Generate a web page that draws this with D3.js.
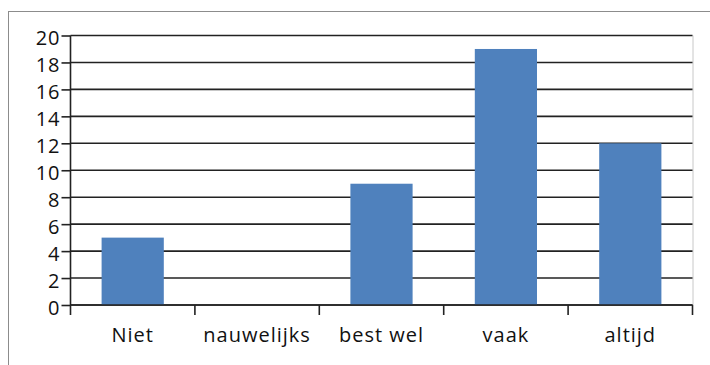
<!DOCTYPE html>
<html>
<head>
<meta charset="utf-8">
<script src="https://cdn.jsdelivr.net/npm/d3@7"></script>
<style>
  html, body { margin: 0; padding: 0; background: #fff; }
  svg { display: block; }
  text { font-family: "Open Sans", sans-serif; fill: #111; letter-spacing: 1px; }
</style>
</head>
<body>
<svg id="chart" width="710" height="365"></svg>
<script>
const categories = ["Niet", "nauwelijks", "best wel", "vaak", "altijd"];
const counts = [5, 0, 9, 19, 12];
const yTicks = [0, 2, 4, 6, 8, 10, 12, 14, 16, 18, 20];

const svg = d3.select("#chart");
const plotLeft = 70.5, plotRight = 692.5, plotTop = 35.5, plotBottom = 305;

// outer frame
svg.append("rect")
  .attr("x", 8.5).attr("y", 11.5)
  .attr("width", 760).attr("height", 400)
  .attr("fill", "none").attr("stroke", "#8c8c8c").attr("stroke-width", 1);

const x = d3.scaleBand().domain(categories).range([plotLeft, plotRight]).paddingInner(0.5).paddingOuter(0.25);
const xb = d3.scaleBand().domain(categories).range([plotLeft, plotRight]);
const y = d3.scaleLinear().domain([0, 20]).range([plotBottom, plotTop]);

// plot area right border
svg.append("line")
  .attr("x1", plotRight + 0.5).attr("x2", plotRight + 0.5)
  .attr("y1", plotTop).attr("y2", plotBottom)
  .attr("stroke", "#c8c8c8").attr("stroke-width", 1);

// gridlines
svg.append("g").selectAll("line").data(yTicks).join("line")
  .attr("x1", plotLeft).attr("x2", plotRight)
  .attr("y1", d => y(d)).attr("y2", d => y(d))
  .attr("stroke", "#222").attr("stroke-width", 1.6);

// bars
svg.append("g").selectAll("rect").data(categories).join("rect")
  .attr("x", d => x(d))
  .attr("width", x.bandwidth())
  .attr("y", (d, i) => y(counts[i]))
  .attr("height", (d, i) => y(0) - y(counts[i]))
  .attr("fill", "#4f81bd");

// y axis
const yAxis = d3.axisLeft(y).tickValues(yTicks).tickSize(9).tickPadding(1).tickFormat(d3.format("d"));
const gy = svg.append("g").attr("transform", `translate(${plotLeft},0)`).call(yAxis);
gy.select(".domain").attr("stroke", "#222").attr("stroke-width", 1.6).attr("d", `M0,${plotTop}V${plotBottom}`);
gy.selectAll(".tick line").attr("stroke", "#222").attr("stroke-width", 1.6);
gy.selectAll(".tick text").style("font-size", "20px").attr("fill", "#111").attr("dy", "0.45em");

// x axis: ticks at category boundaries
const bounds = categories.map(c => xb(c)).concat([plotRight]);
const gx = svg.append("g");
gx.append("line").attr("x1", plotLeft).attr("x2", plotRight).attr("y1", plotBottom).attr("y2", plotBottom)
  .attr("stroke", "#222").attr("stroke-width", 1.6);
gx.selectAll("line.tk").data(bounds).join("line").attr("class", "tk")
  .attr("x1", d => d).attr("x2", d => d)
  .attr("y1", plotBottom).attr("y2", plotBottom + 10)
  .attr("stroke", "#222").attr("stroke-width", 1.6);
gx.selectAll("text").data(categories).join("text")
  .attr("x", d => xb(d) + xb.bandwidth() / 2)
  .attr("y", 342)
  .attr("text-anchor", "middle")
  .style("font-size", "20px")
  .text(d => d);
</script>
</body>
</html>
